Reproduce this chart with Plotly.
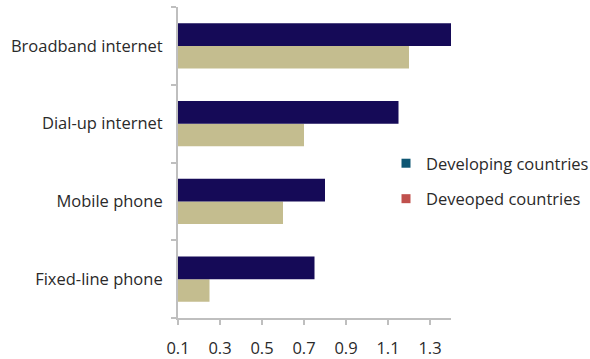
import plotly.graph_objects as go

categories = ["Broadband internet", "Dial-up internet", "Mobile phone", "Fixed-line phone"]
developing = [1.4, 1.15, 0.8, 0.75]
developed = [1.2, 0.7, 0.6, 0.25]
x_ticks = [0.1, 0.3, 0.5, 0.7, 0.9, 1.1, 1.3]
legend_names = ["Developing countries", "Deveoped countries"]
legend_colors = ["#0E5673", "#C0504D"]

BAR_DARK = "#150A57"
BAR_TAN = "#C4BD8F"
AXIS = "#BFBFBF"
FONT = "Open Sans"
FS = 16.5
TEXT = "#2A2A2A"

fig = go.Figure()

# Lower bar in each group first, upper bar second
fig.add_trace(go.Bar(y=categories, x=developed, orientation="h",
                     marker=dict(color=BAR_TAN, line=dict(width=0)),
                     showlegend=False))
fig.add_trace(go.Bar(y=categories, x=developing, orientation="h",
                     marker=dict(color=BAR_DARK, line=dict(width=0)),
                     showlegend=False))

# Legend entries
for i, (name, col) in enumerate(zip(legend_names, legend_colors)):
    fig.add_trace(go.Scatter(x=[None], y=[None], mode="markers", name=name,
                             legendgroup=f"g{i}",
                             marker=dict(symbol="square", size=9, color=col)))

fig.update_layout(
    width=590, height=359,
    margin=dict(l=178, r=139, t=7, b=41, autoexpand=False),
    paper_bgcolor="white", plot_bgcolor="white",
    barmode="group", bargap=0.42, bargroupgap=0,
    font=dict(family=FONT, size=FS, color=TEXT),
    legend=dict(x=(386 - 178) / 273, y=1 - (146 - 7) / 311,
                xanchor="left", yanchor="top", tracegroupgap=11,
                font=dict(family=FONT, size=FS, color=TEXT),
                itemwidth=30, bgcolor="rgba(0,0,0,0)"),
)
fig.update_xaxes(range=[0.1, 1.4], tickvals=x_ticks,
                 ticktext=[f"{v:.1f}" for v in x_ticks],
                 showgrid=False, zeroline=False,
                 showline=True, linecolor=AXIS, linewidth=2,
                 ticks="outside", ticklen=5, tickcolor=AXIS, tickwidth=1.5,
                 ticklabelstandoff=9,
                 tickfont=dict(family=FONT, size=FS, color=TEXT))
fig.update_yaxes(categoryorder="array", categoryarray=categories[::-1],
                 showgrid=False, zeroline=False,
                 showline=True, linecolor=AXIS, linewidth=2,
                 ticks="outside", ticklen=5, tickcolor=AXIS, tickwidth=1.5,
                 tickson="boundaries", ticklabelstandoff=10,
                 tickfont=dict(family=FONT, size=FS, color=TEXT))

fig.write_html("out.html")
